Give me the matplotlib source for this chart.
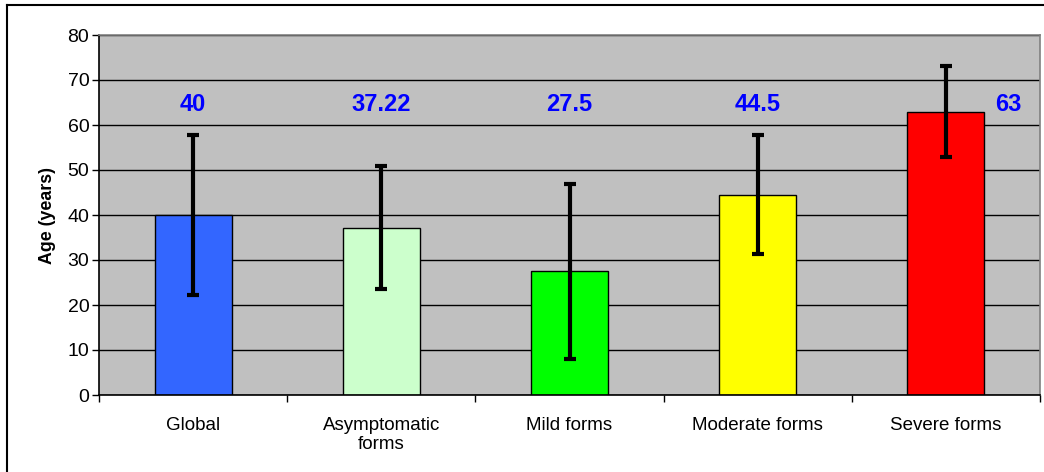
import matplotlib.pyplot as plt
import numpy as np
from matplotlib.lines import Line2D

plt.rcParams['font.family'] = ['Liberation Sans', 'DejaVu Sans']

# data
categories = ["Global", "Asymptomatic\nforms", "Mild forms", "Moderate forms", "Severe forms"]
means = [40, 37.22, 27.5, 44.5, 63]
sds = [17.7, 13.6, 19.4, 13.2, 10.2]
labels = ["40", "37.22", "27.5", "44.5", "63"]
colors = ["#3366ff", "#ccffcc", "#00ff00", "#ffff00", "#ff0000"]


def plotAges():
    fig = plt.figure(figsize=(10.44, 4.72), dpi=100)
    ax = fig.add_axes([99 / 1044, 1 - 395 / 472, 941 / 1044, 360 / 472])

    x = np.arange(len(categories))
    ax.set_facecolor("#c0c0c0")
    ax.set_axisbelow(True)
    ax.yaxis.grid(True, color="black", linewidth=1)

    ax.bar(x, means, width=0.41, color=colors, edgecolor="black", linewidth=1, zorder=2)
    ax.errorbar(x, means, yerr=sds, fmt="none", ecolor="black", elinewidth=3,
                capsize=4, capthick=3, zorder=3)

    # value labels, the last one sits right of its bar
    offsets = [0, 0, 0, 0, 0.33]
    for i in range(len(labels)):
        ax.text(x[i] + offsets[i], 64.5, labels[i], color="#0000ff", fontsize=17,
                fontweight="bold", ha="center", va="center", zorder=4)

    ax.set_xlim(-0.5, len(categories) - 0.5)
    ax.set_ylim(0, 80)
    ax.set_yticks(range(0, 81, 10))
    ax.set_xticks(np.arange(len(categories) + 1) - 0.5, minor=True)
    ax.set_xticks(x)
    ax.set_xticklabels(categories, fontsize=13.5, linespacing=1.15)
    ax.tick_params(axis="x", which="major", length=0, pad=16)
    ax.tick_params(axis="x", which="minor", length=5, direction="out", width=1)
    ax.tick_params(axis="y", length=5, width=1, labelsize=14, pad=2)
    ax.set_ylabel("Age (years)", fontsize=12.8, fontweight="bold", labelpad=8)

    for side in ["left", "bottom"]:
        ax.spines[side].set_color("black")
        ax.spines[side].set_linewidth(1.2)
    for side in ["top", "right"]:
        ax.spines[side].set_color("#808080")
        ax.spines[side].set_linewidth(1.2)

    # outer chart border (only left and top are in the picture)
    fig.add_artist(Line2D([7 / 1044, 7 / 1044], [0, 1 - 5 / 472], color="black", linewidth=1.5))
    fig.add_artist(Line2D([7 / 1044, 1], [1 - 5 / 472, 1 - 5 / 472], color="black", linewidth=1.5))

    plt.savefig("out.png", dpi=100)


def main():
    plotAges()


if __name__ == "__main__":
    main()
